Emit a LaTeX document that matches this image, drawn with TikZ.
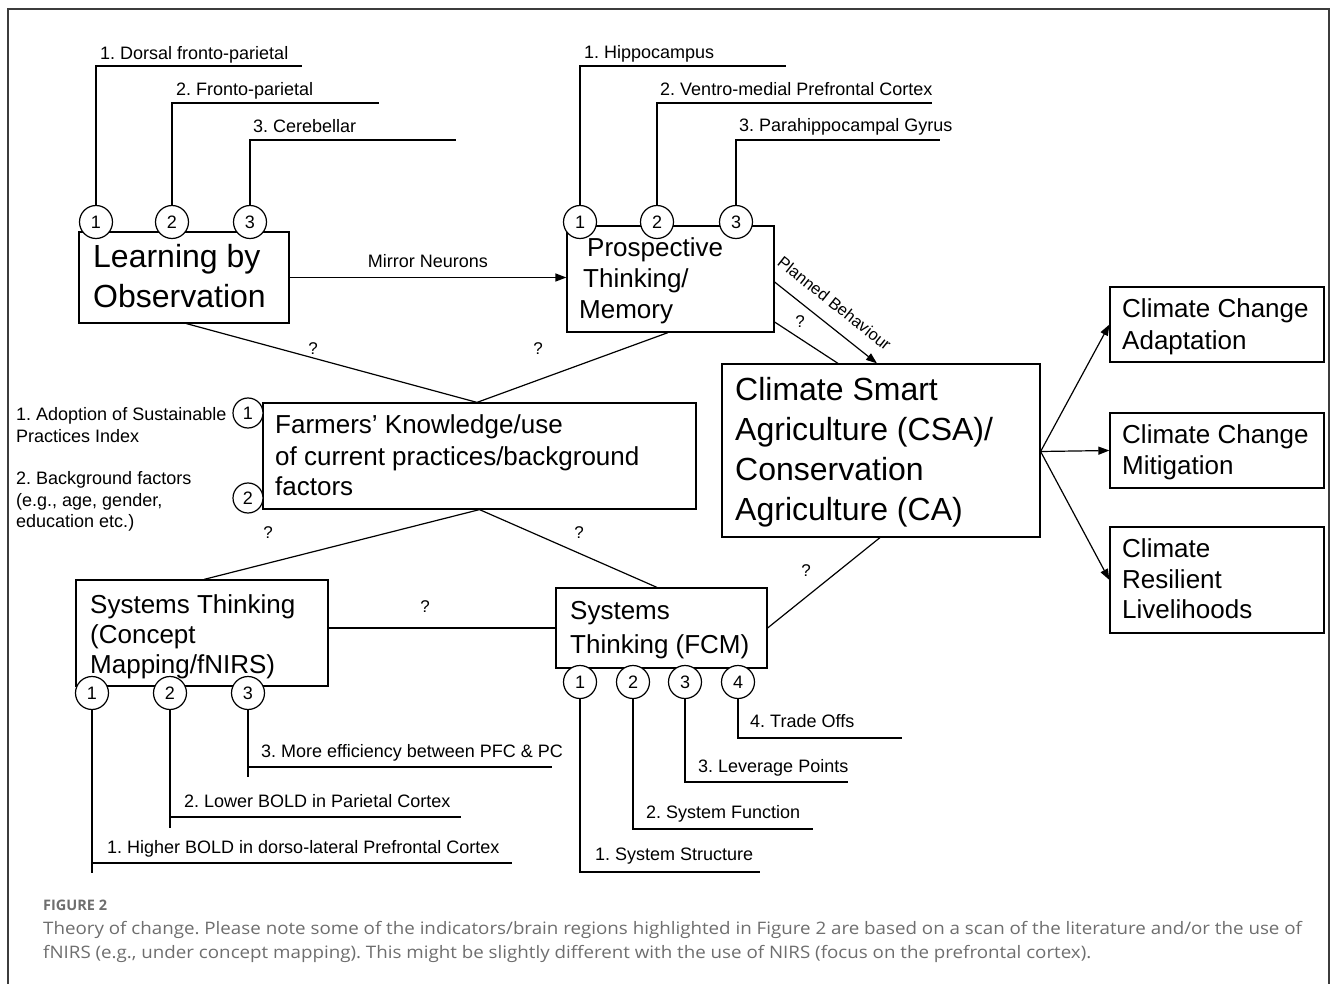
\documentclass[tikz,border=0pt]{standalone}
\usepackage{fontspec}
\setmainfont{Liberation Sans}
\newfontfamily\capfont[FakeStretch=1.09]{Open Sans}
\newfontfamily\capboldfont{Open Sans}
\usetikzlibrary{arrows.meta,calc}
\definecolor{capgray}{RGB}{110,110,110}
\definecolor{framegray}{RGB}{60,60,60}
\frenchspacing
\tikzset{
  box/.style={draw, line width=1.2pt, inner sep=0pt, fill=white},
  tbig/.style={font=\fontsize{32}{40}\selectfont, anchor=base west, inner sep=0pt},
  tmid/.style={font=\fontsize{26}{31}\selectfont, anchor=base west, inner sep=0pt},
  tsmall/.style={font=\fontsize{18}{21}\selectfont, anchor=base west, inner sep=0pt},
  qm/.style={font=\fontsize{17}{20}\selectfont, inner sep=0pt},
  num/.style={circle, draw, fill=white, line width=1.2pt, minimum size=33pt, inner sep=0pt, font=\fontsize{18}{20}\selectfont},
  conn/.style={line width=1.2pt},
  arr/.style={conn, -{Triangle[length=11pt,width=8pt]}},
  capt/.style={font=\capfont\fontsize{17.2}{22}\selectfont, text=capgray, anchor=base west, inner sep=0pt},
}
\begin{document}
\begin{tikzpicture}[x=1pt,y=-1pt]
\useasboundingbox (0,0) rectangle (1331,984);
\draw[framegray, line width=1.3pt] (8,990) -- (8,9) -- (1329,9) -- (1329,990);

% boxes
\node[box, minimum width=210pt, minimum height=91pt] (lbo) at (184,277.5) {};
\node[box, minimum width=207pt, minimum height=106pt] (ptm) at (670.5,279) {};
\node[box, minimum width=318pt, minimum height=173pt] (csa) at (881,450.5) {};
\node[box, minimum width=214pt, minimum height=75pt] (cca) at (1217,324.5) {};
\node[box, minimum width=214pt, minimum height=75pt] (ccm) at (1217,450.5) {};
\node[box, minimum width=214pt, minimum height=106pt] (crl) at (1217,580) {};
\node[box, minimum width=433pt, minimum height=106pt] (fk) at (479.5,456) {};
\node[box, minimum width=252pt, minimum height=106pt] (stc) at (202,633) {};
\node[box, minimum width=211pt, minimum height=80pt] (fcm) at (661.5,628) {};

% box texts
\node[tbig] (lbo1) at (93,268) {Learning by};
\node[tbig] (lbo2) at (93,308) {Observation};
\node[tmid] (ptm1) at (587,257) {Prospective};
\node[tmid] (ptm2) at (583,288) {Thinking/};
\node[tmid] (ptm3) at (579,319) {Memory};
\node[tbig] (csa1) at (735,400) {Climate Smart};
\node[tbig] (csa2) at (735,440) {Agriculture (CSA)/};
\node[tbig] (csa3) at (735,480) {Conservation};
\node[tbig] (csa4) at (735,520) {Agriculture (CA)};
\node[tmid] (cca1) at (1122,318) {Climate Change};
\node[tmid] (cca2) at (1122,350) {Adaptation};
\node[tmid] (ccm1) at (1122,443) {Climate Change};
\node[tmid] (ccm2) at (1122,474) {Mitigation};
\node[tmid] (crl1) at (1122,557) {Climate};
\node[tmid] (crl2) at (1122,588) {Resilient};
\node[tmid] (crl3) at (1122,618) {Livelihoods};
\node[tmid] (fk1) at (275,433) {Farmers’ Knowledge/use};
\node[tmid] (fk2) at (275,465) {of current practices/background};
\node[tmid] (fk3) at (275,495) {factors};
\node[tmid] (stc1) at (90,613) {Systems Thinking};
\node[tmid] (stc2) at (90,643) {(Concept};
\node[tmid] (stc3) at (90,673) {Mapping/fNIRS)};
\node[tmid] (fcm1) at (570,619) {Systems};
\node[tmid] (fcm2) at (570,653) {Thinking (FCM)};

% connectors
\draw[arr] (lbo.east) -- node[qm, font=\fontsize{18}{21}\selectfont, above=9pt] (mn) {Mirror Neurons} (lbo.east -| ptm.west);
\draw[arr] ([yshift=-3pt]ptm.east) -- node[sloped, pos=0.46, above=14pt, inner sep=0pt, font=\fontsize{16.5}{20}\selectfont] (pb) {Planned Behaviour} ([xshift=-4pt]csa.north);
\draw[conn] ([yshift=-43pt]ptm.east) -- ([xshift=-43pt]csa.north);
\draw[conn] ([xshift=108pt]lbo.south west) -- ([xshift=-2.5pt]fk.north);
\draw[conn] ([xshift=-2.5pt]ptm.south) -- ([xshift=-2.5pt]fk.north);
\draw[conn] (fk.south) -- ([xshift=2pt]stc.north);
\draw[conn] (fk.south) -- ([xshift=-4.5pt]fcm.north);
\draw[conn] ([yshift=5pt]stc.east) -- (fcm.west);
\draw[conn] (fcm.east) -- ([xshift=-1pt]csa.south);
\draw[arr] ([yshift=-1pt]csa.east) -- (cca.west);
\draw[arr] ([yshift=-1pt]csa.east) -- (ccm.west);
\draw[arr] ([yshift=-1pt]csa.east) -- (crl.west);

% question marks
\node[qm] (q1) at (313,349) {?};
\node[qm] (q2) at (538,349) {?};
\node[qm] (q3) at (800,322) {?};
\node[qm] (q4) at (268,533) {?};
\node[qm] (q5) at (579,533) {?};
\node[qm] (q6) at (425,607) {?};
\node[qm] (q7) at (806,571) {?};

% numbered circles
\node[num] (lc1) at (96,222) {1};
\node[num] (lc2) at (172,222) {2};
\node[num] (lc3) at (250,222) {3};
\node[num] (pc1) at (580,222) {1};
\node[num] (pc2) at (657,222) {2};
\node[num] (pc3) at (736,222) {3};
\node[num, minimum size=30pt] (fc1) at (248,413) {1};
\node[num, minimum size=30pt] (fc2) at (248,498) {2};
\node[num] (sc1) at (92,693) {1};
\node[num] (sc2) at (170,693) {2};
\node[num] (sc3) at (248,693) {3};
\node[num] (mc1) at (580,682) {1};
\node[num] (mc2) at (633,682) {2};
\node[num] (mc3) at (685,682) {3};
\node[num] (mc4) at (738,682) {4};

% leader end coordinates
\coordinate (le1) at (302,66);
\coordinate (le2) at (379,103);
\coordinate (le3) at (456,140);
\coordinate (pe1) at (786,66);
\coordinate (pe2) at (932,103);
\coordinate (pe3) at (940,140);
\coordinate (se1) at (512,863);
\coordinate (se2) at (461,817);
\coordinate (se3) at (552,767);
\coordinate (sv1) at (92,873);
\coordinate (sv2) at (170,828);
\coordinate (sv3) at (248,777);
\coordinate (me1) at (760,872);
\coordinate (me2) at (813,829);
\coordinate (me3) at (848,782);
\coordinate (me4) at (902,738);

% leaders
\draw[conn] (lc1.north) |- (le1);
\draw[conn] (lc2.north) |- (le2);
\draw[conn] (lc3.north) |- (le3);
\draw[conn] (pc1.north) |- (pe1);
\draw[conn] (pc2.north) |- (pe2);
\draw[conn] (pc3.north) |- (pe3);
\draw[conn] (sc1.south) -- (sv1);
\draw[conn] (sc2.south) -- (sv2);
\draw[conn] (sc3.south) -- (sv3);
\draw[conn] (sc1.south |- se1) -- (se1);
\draw[conn] (sc2.south |- se2) -- (se2);
\draw[conn] (sc3.south |- se3) -- (se3);
\draw[conn] (mc1.south) |- (me1);
\draw[conn] (mc2.south) |- (me2);
\draw[conn] (mc3.south) |- (me3);
\draw[conn] (mc4.south) |- (me4);

% leader labels
\node[tsmall] (ll1) at (100,60) {1. Dorsal fronto-parietal};
\node[tsmall] (ll2) at (176,96) {2. Fronto-parietal};
\node[tsmall] (ll3) at (253,133) {3. Cerebellar};
\node[tsmall] (pl1) at (584,59) {1. Hippocampus};
\node[tsmall] (pl2) at (660,96) {2. Ventro-medial Prefrontal Cortex};
\node[tsmall] (pl3) at (739,132) {3. Parahippocampal Gyrus};
\node[tsmall] (fl1) at (16,420) {1. Adoption of Sustainable};
\node[tsmall] (fl2) at (16,442) {Practices Index};
\node[tsmall] (fl3) at (16,484) {2. Background factors};
\node[tsmall] (fl4) at (16,506) {(e.g., age, gender,};
\node[tsmall] (fl5) at (16,527) {education etc.)};
\node[tsmall] (sl3) at (261,757) {3. More efficiency between PFC \& PC};
\node[tsmall] (sl2) at (184,807) {2. Lower BOLD in Parietal Cortex};
\node[tsmall] (sl1) at (107,853) {1. Higher BOLD in dorso-lateral Prefrontal Cortex};
\node[tsmall] (ml4) at (750,727) {4. Trade Offs};
\node[tsmall] (ml3) at (698,772) {3. Leverage Points};
\node[tsmall] (ml2) at (646,818) {2. System Function};
\node[tsmall] (ml1) at (595,860) {1. System Structure};

% caption
\node[capt, font=\capboldfont\bfseries\fontsize{14.5}{18}\selectfont] (cap0) at (43,910) {FIGURE 2};
\node[capt] (cap1) at (43,934) {Theory of change. Please note some of the indicators/brain regions highlighted in Figure 2 are based on a scan of the literature and/or the use of};
\node[capt] (cap2) at (43,958) {fNIRS (e.g., under concept mapping). This might be slightly different with the use of NIRS (focus on the prefrontal cortex).};
\end{tikzpicture}
\end{document}
